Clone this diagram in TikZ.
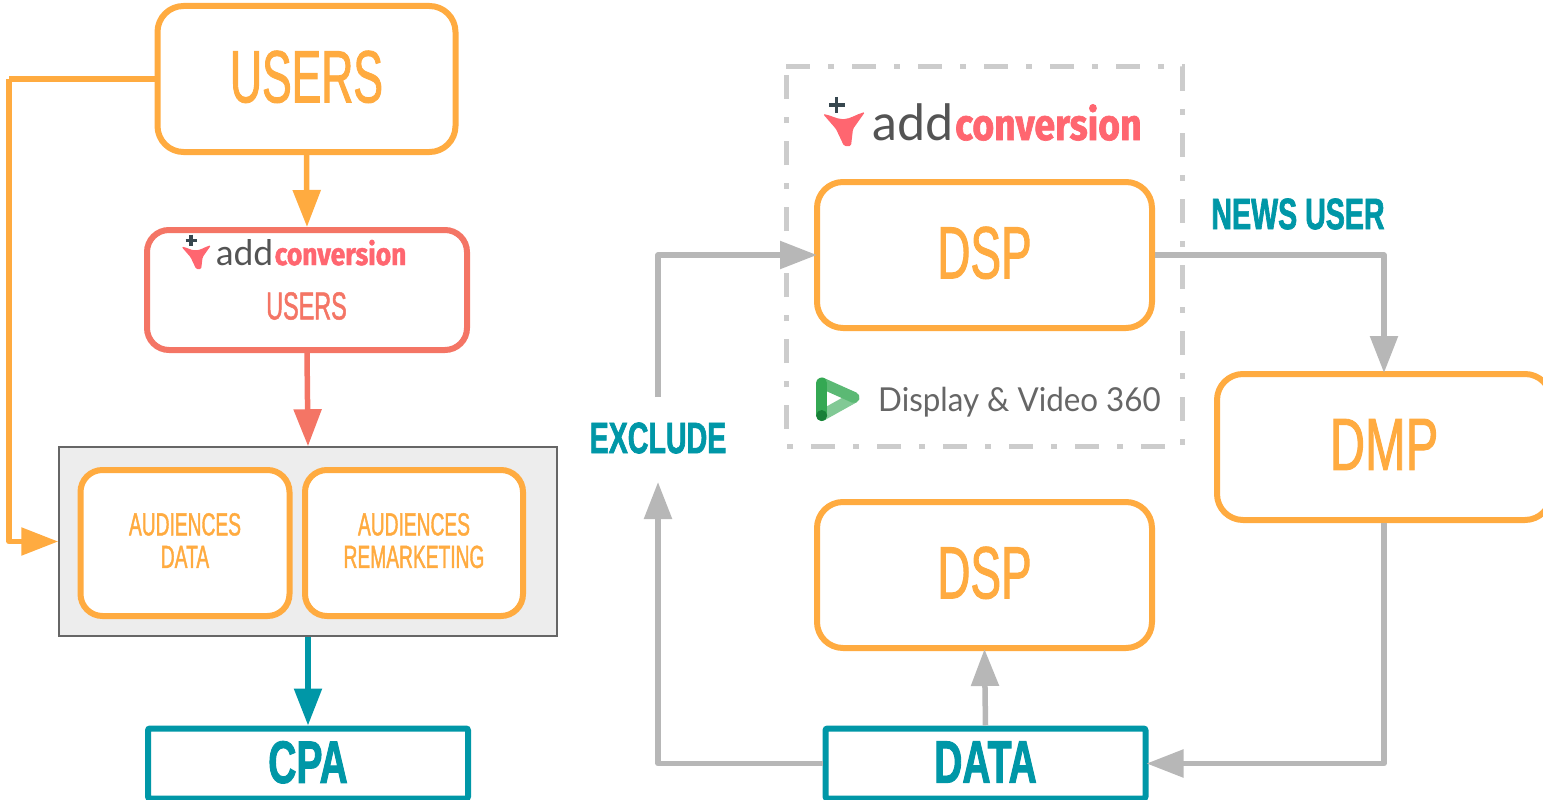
\documentclass[tikz,border=0pt]{standalone}
\usepackage{fontspec}
\usetikzlibrary{arrows.meta}
\setmainfont{Liberation Sans}
\newfontfamily\oswl[FakeStretch=0.6,FakeBold=1.2]{Liberation Sans}
\newfontfamily\oswd[FakeStretch=0.62,FakeBold=1.2]{Liberation Sans}
\newfontfamily\oswm[FakeStretch=0.66,FakeBold=1.2]{Liberation Sans}
\newfontfamily\oswb[FakeStretch=0.65,FakeBold=1.5]{Liberation Sans Bold}
\newfontfamily\latol{Lato}
\newfontfamily\convf[FakeStretch=0.85,FakeBold=1.5]{Fira Sans Bold}
\newfontfamily\disp[FakeStretch=0.95]{Lato}
\definecolor{orangeC}{HTML}{FFAB40}
\definecolor{redC}{HTML}{F47565}
\definecolor{tealC}{HTML}{0097A7}
\definecolor{grayC}{HTML}{B7B7B7}
\definecolor{dashC}{HTML}{CCCCCC}
\definecolor{logoR}{HTML}{FF6670}
\definecolor{plusC}{HTML}{37474F}
\tikzset{
  box/.style={draw,fill=white,line width=6pt,rounded corners=26pt,inner sep=0pt,align=center,text depth=5pt},
  obox/.style={box,draw=orangeC,text=orangeC},
  tbox/.style={draw=tealC,fill=white,line width=6pt,rounded corners=2pt,inner sep=0pt,text=tealC,text depth=3pt,font=\oswb\fontsize{60}{60}\selectfont},
  conn/.style={line width=5.5pt,line join=round,-{Triangle[length=37pt,width=27pt]}},
  plain/.style={line width=5.5pt,line join=round},
  lab/.style={text=tealC,inner sep=0pt,font=\oswb\fontsize{44}{44}\selectfont},
}
\newcommand{\addlogo}[4]{%
 \begin{scope}[shift={(#1,#2)},scale=#3,transform shape]
  \fill[logoR,rounded corners=1.5pt] (-49,-26) .. controls (-42,-25) and (-35,-21) .. (-29,-21) .. controls (-22,-21) and (-15,-26) .. (-7,-28) -- (-19,-11) -- (-21,6) -- (-28,6) -- (-36,-11) -- cycle;
  \draw[line width=3.2pt,draw=plusC] (-43,-35) -- (-27.5,-35) (-35.3,-43) -- (-35.3,-27);
  \node[anchor=base west,inner sep=0pt,text=black!67] (#4add) at (0,0) {\latol\fontsize{50}{50}\selectfont add};
  \node[anchor=base west,inner sep=0pt,text=logoR] (#4conv) at (83,0) {\convf\fontsize{44}{44}\selectfont conversion};
 \end{scope}}
\begin{document}
\begin{tikzpicture}[x=1pt,y=-1pt]
\useasboundingbox (0,0) rectangle (1543,800);
% left column
\node[obox,minimum width=298pt,minimum height=146pt,font=\oswl\fontsize{74}{74}\selectfont] (users) at (306.5,79) {USERS};
\node[box,draw=redC,text=redC,minimum width=320pt,minimum height=120pt,rounded corners=22pt] (au) at (307,290) {};
\node[inner sep=0pt,text=redC,font=\oswl\fontsize{39}{39}\selectfont] (autext) at (306.5,306) {USERS};
\addlogo{216}{265}{0.706}{small}
\node[draw=black!60,fill=black!7,line width=1.5pt,minimum width=498pt,minimum height=189pt,inner sep=0pt] (grp) at (308,541.5) {};
\node[obox,minimum width=209pt,minimum height=146pt,font=\oswl\fontsize{32}{32}\selectfont,rounded corners=22pt] (aud1) at (185,543) {AUDIENCES\\[0.5pt]DATA};
\node[obox,minimum width=218pt,minimum height=146pt,font=\oswl\fontsize{32}{32}\selectfont,rounded corners=22pt] (aud2) at (414,543) {AUDIENCES\\[0.5pt]REMARKETING};
\node[tbox,minimum width=320pt,minimum height=70pt] (cpa) at (308,763.5) {CPA};
\coordinate (lc) at (9,79);
\draw[plain,draw=orangeC] (users.west) -- (lc);
\draw[conn,draw=orangeC] (lc) |- (grp.west);
\draw[conn,draw=orangeC] (users.south) -- (au.north);
\draw[conn,draw=redC] (au.south) -- (grp.north);
\draw[conn,draw=tealC] (grp.south) -- (cpa.north);
% right column
\node[minimum width=396pt,minimum height=379pt,inner sep=0pt,outer sep=0pt] (frame) at (984,256.5) {};
\draw[draw=dashC,line width=5pt,dash pattern=on 24pt off 18pt on 6pt off 18pt] (frame.north west) -- (frame.north east) -- (frame.south east) -- (frame.south west) -- cycle;
\addlogo{872}{140}{1}{big}
\node[obox,minimum width=335pt,minimum height=146pt,font=\oswd\fontsize{74}{74}\selectfont] (dspa) at (984.5,255) {DSP};
\node[obox,minimum width=335pt,minimum height=146pt,font=\oswd\fontsize{74}{74}\selectfont] (dspb) at (984.5,575) {DSP};
\node[obox,minimum width=334pt,minimum height=146pt,font=\oswm\fontsize{74}{74}\selectfont] (dmp) at (1384,447) {DMP};
\node[tbox,minimum width=320pt,minimum height=70pt] (data) at (985.5,763.5) {DATA};
\node[lab] (newsuser) at (1298,214) {NEWS USER};
\node[lab] (exclude) at (658,438) {EXCLUDE};
% display & video logo
\definecolor{dvL}{HTML}{81C995}
\definecolor{dvM}{HTML}{5BB974}
\definecolor{dvD}{HTML}{34A853}
\definecolor{dvK}{HTML}{188038}
\draw[line width=11pt,line cap=round,line join=round,draw=dvL] (821.7,415.5) -- (854,397.5);
\draw[line width=11pt,line cap=round,line join=round,draw=dvM] (821.7,383) -- (854,397.5);
\draw[line width=11pt,line cap=round,draw=dvD] (821.7,383) -- (821.7,415.5);
\fill[dvK] (821.7,415.5) circle (5.5pt);
\node[anchor=base west,inner sep=0pt,text=black!60,font=\disp\fontsize{33}{33}\selectfont] (dv) at (878,411) {Display \& Video 360};
% gray connectors
\draw[conn,draw=grayC,shorten >=-2pt] (dspa.east) -| (dmp.north);
\draw[conn,draw=grayC,shorten >=-2pt] (dmp.south) |- (data.east);
\draw[conn,draw=grayC,shorten >=-2pt] (data.north) -- (dspb.south);
\coordinate (exa) at (658,397);
\coordinate (exb) at (658,482);
\draw[conn,draw=grayC] (data.west) -| (exb);
\draw[conn,draw=grayC,shorten >=-3pt] (exa) |- (dspa.west);
\end{tikzpicture}
\end{document}
